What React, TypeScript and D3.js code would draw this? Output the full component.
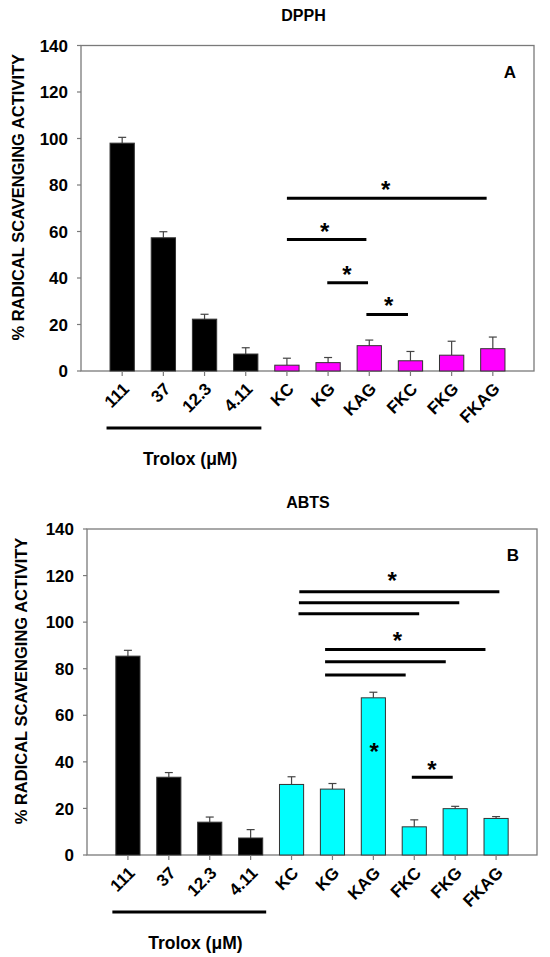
import * as d3 from "d3"

const categories = ["111", "37", "12.3", "4.11", "KC", "KG", "KAG", "FKC", "FKG", "FKAG"]
const troloxCount = 4
const yTicks = [0, 20, 40, 60, 80, 100, 120, 140]

// DPPH (panel A)
const dpphValues = [98, 57.3, 22.3, 7.3, 2.5, 3.6, 10.9, 4.4, 6.8, 9.6]
const dpphErrors = [2.5, 2.6, 2.1, 2.7, 3, 2.2, 2.4, 4, 6, 5]
// significance lines: [from, to, value] in category positions (1 = first bar)
const dpphLines = [
  [5, 9.85, 74.3],
  [5, 6.93, 56.6],
  [5.98, 6.97, 38],
  [6.93, 7.94, 24.3],
]
const dpphStars = [
  [7.4, 80.4],
  [5.92, 62.3],
  [6.46, 43.7],
  [7.47, 30.7],
]

// ABTS (panel B)
const abtsValues = [85.4, 33.4, 14.1, 7.3, 30.3, 28.3, 67.5, 12.1, 19.9, 15.7]
const abtsErrors = [2.5, 2, 2.2, 3.6, 3.3, 2.4, 2.4, 3, 1, 0.8]
const abtsLines = [
  [5.19, 10.08, 113.1],
  [5.18, 9.1, 108.3],
  [5.17, 8.12, 103.6],
  [5.82, 9.74, 88.3],
  [5.82, 8.77, 83],
  [5.82, 7.79, 77.3],
  [7.94, 8.94, 33.4],
]
const abtsStars = [
  [7.46, 120.3],
  [7.59, 94.4],
  [8.43, 39],
  [7.02, 47],
]

const FONT = "'Liberation Sans', Arial, sans-serif"
const AXIS = "#7a7a7a"

interface PanelProps {
  title: string
  letter: string
  values: number[]
  errors: number[]
  lines: number[][]
  stars: number[][]
  color: string
  left: number
  right: number
  top: number
  bottom: number
  titleY: number
  labelX: number
}

function Panel(p: PanelProps) {
  const x = d3.scaleLinear().domain([0, categories.length + 1]).range([p.left, p.right])
  const y = d3.scaleLinear().domain([0, 140]).range([p.bottom, p.top])
  const step = x(1) - x(0)
  const bw = step * 0.59
  const capW = 8

  return (
    <g fontFamily={FONT} fontWeight="bold">
      <text x={(p.left + p.right) / 2 - 4} y={p.titleY} textAnchor="middle" fontSize={16}>
        {p.title}
      </text>
      <rect
        x={p.left}
        y={p.top}
        width={p.right - p.left}
        height={p.bottom - p.top}
        fill="none"
        stroke={AXIS}
        strokeWidth={1.3}
      />
      {yTicks.map((t) => (
        <g key={t}>
          <line x1={p.left - 4} x2={p.left} y1={y(t)} y2={y(t)} stroke={AXIS} strokeWidth={1.2} />
          <text x={p.left - 13} y={y(t)} dy="0.36em" textAnchor="end" fontSize={17}>
            {t}
          </text>
        </g>
      ))}
      <text
        transform={`translate(${p.labelX},${(p.top + p.bottom) / 2 - 11}) rotate(-90)`}
        textAnchor="middle"
        dy="0.36em"
        fontSize={16.5}
      >
        % RADICAL SCAVENGING ACTIVITY
      </text>
      {categories.map((c, i) => {
        const cx = x(i + 1)
        const v = p.values[i]
        const e = p.errors[i]
        return (
          <g key={c}>
            <line x1={cx} x2={cx} y1={y(v)} y2={y(v + e)} stroke="#444" strokeWidth={1.2} />
            <line x1={cx - capW / 2} x2={cx + capW / 2} y1={y(v + e)} y2={y(v + e)} stroke="#444" strokeWidth={1.2} />
            <rect
              x={cx - bw / 2}
              y={y(v)}
              width={bw}
              height={y(0) - y(v)}
              fill={i < troloxCount ? "#000" : p.color}
              stroke="#333"
              strokeWidth={1}
            />
            <line x1={cx} x2={cx} y1={p.bottom} y2={p.bottom + 5} stroke={AXIS} strokeWidth={1.2} />
            <text
              transform={`translate(${cx + 8},${p.bottom + 19}) rotate(-45)`}
              textAnchor="end"
              fontSize={17}
            >
              {c}
            </text>
          </g>
        )
      })}
      {p.lines.map(([a, b, v], i) => (
        <line key={i} x1={x(a)} x2={x(b)} y1={y(v)} y2={y(v)} stroke="#000" strokeWidth={3} />
      ))}
      {p.stars.map(([sx, sv], i) => (
        <text key={i} x={x(sx)} y={y(sv) + 14} textAnchor="middle" fontSize={24}>
          *
        </text>
      ))}
      <text x={p.right - 24} y={p.top + 32} textAnchor="middle" fontSize={17}>
        {p.letter}
      </text>
      <line
        x1={x(0.62)}
        x2={x(4.38)}
        y1={p.bottom + 57}
        y2={p.bottom + 57}
        stroke="#000"
        strokeWidth={3}
      />
      <text x={x(2.65)} y={p.bottom + 94} textAnchor="middle" fontSize={17.5}>
        Trolox (μM)
      </text>
    </g>
  )
}

export default function App() {
  return (
    <svg
      width={550}
      height={957}
      style={{ position: "absolute", left: 0, top: 0, background: "#fff" }}
    >
      <Panel
        title="DPPH"
        letter="A"
        values={dpphValues}
        errors={dpphErrors}
        lines={dpphLines}
        stars={dpphStars}
        color="#ff00ff"
        left={81}
        right={534}
        top={45.5}
        bottom={371}
        titleY={21}
        labelX={18}
      />
      <Panel
        title="ABTS"
        letter="B"
        values={abtsValues}
        errors={abtsErrors}
        lines={abtsLines}
        stars={abtsStars}
        color="#00ffff"
        left={87}
        right={537}
        top={529}
        bottom={855}
        titleY={508}
        labelX={21}
      />
    </svg>
  )
}
